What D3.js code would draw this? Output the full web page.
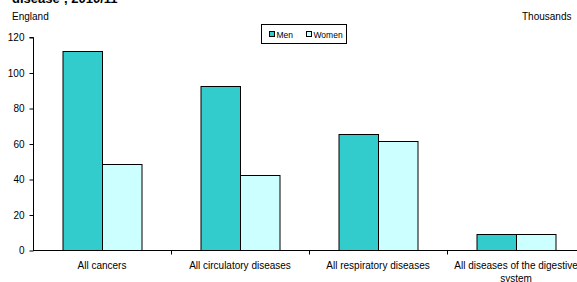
<!DOCTYPE html>
<html>
<head>
<meta charset="utf-8">
<script src="https://cdn.jsdelivr.net/npm/d3@7"></script>
<style>
body { margin: 0; background: #fff; overflow: hidden; }
svg { font-family: "Liberation Sans", Arial, sans-serif; }
</style>
</head>
<body>
<script>
var width = 577;
var height = 282;

// data
var categories = ["All cancers", "All circulatory diseases", "All respiratory diseases", "All diseases of the digestive system"];
var series = ["Men", "Women"];
var men = [112, 92.5, 65.3, 9];
var women = [48.5, 42.3, 61.4, 9];
var yTicks = [0, 20, 40, 60, 80, 100, 120];
var colors = ["#33cccc", "#ccffff"];

var svg = d3.select("body")
            .append("svg")
            .attr("width", width)
            .attr("height", height);

var plotLeft = 33, plotTop = 37, plotBottom = 250;
var chart_width = 552;

var x = d3.scaleBand().domain(categories).range([plotLeft, plotLeft + chart_width]).paddingInner(0).paddingOuter(0);
var x1 = d3.scaleBand().domain(series).range([0, 79]);
var y = d3.scaleLinear().domain([0, 120]).range([plotBottom, plotTop]);

// title (cut off at top)
svg.append("text")
   .attr("x", 12).attr("y", 3)
   .style("font-size", "13px").style("font-weight", "bold")
   .text("disease\u00b9, 2010/11");

svg.append("text").attr("x", 12).attr("y", 20).style("font-size", "10px").text("England");
svg.append("text").attr("x", 522).attr("y", 20).style("font-size", "10px").text("Thousands");

// bars
var rows = categories.map(function (c, i) { return { cat: c, vals: [men[i], women[i]] }; });
var groups = svg.selectAll(".grp")
    .data(rows)
    .enter()
    .append("g")
    .attr("transform", function (d) { return "translate(" + (x(d.cat) + (x.bandwidth() - 79) / 2) + ",0)"; });

groups.selectAll("rect")
    .data(function (d) { return d.vals.map(function (v, j) { return { s: series[j], v: v, j: j }; }); })
    .enter()
    .append("rect")
    .attr("x", function (d) { return x1(d.s) + 0.5; })
    .attr("y", function (d) { return Math.round(y(d.v)) + 0.5; })
    .attr("width", x1.bandwidth())
    .attr("height", function (d) { return plotBottom - Math.round(y(d.v)); })
    .attr("fill", function (d) { return colors[d.j]; })
    .attr("stroke", "#000")
    .attr("stroke-width", 1);

// y axis
var yAxis = d3.axisLeft(y).tickValues(yTicks).tickSize(4).tickPadding(5);
var gy = svg.append("g").attr("transform", "translate(" + (plotLeft + 0.5) + ",0.5)").call(yAxis);
gy.select(".domain").attr("d", "M-4," + plotTop + "H0V" + plotBottom);
gy.selectAll("text").style("font-size", "10px").style("font-family", "Liberation Sans, Arial, sans-serif");

// x axis
var gx = svg.append("g").attr("transform", "translate(0," + (plotBottom + 0.5) + ")");
gx.append("line").attr("x1", plotLeft).attr("x2", width).attr("stroke", "#000");
gx.selectAll(".tk")
  .data(categories.slice(1))
  .enter()
  .append("line")
  .attr("x1", function (d) { return x(d) + 0.5; })
  .attr("x2", function (d) { return x(d) + 0.5; })
  .attr("y1", 0).attr("y2", 4)
  .attr("stroke", "#000");

var labels = gx.selectAll(".lab")
  .data(categories)
  .enter()
  .append("text")
  .attr("x", function (d) { return x(d) + x.bandwidth() / 2; })
  .attr("y", 18.5)
  .attr("text-anchor", "middle")
  .style("font-size", "10px");
labels.each(function (d, i) {
    var t = d3.select(this);
    if (i === 3) {
        t.append("tspan").attr("x", x(d) + x.bandwidth() / 2).text("All diseases of the digestive");
        t.append("tspan").attr("x", x(d) + x.bandwidth() / 2).attr("dy", 13).text("system");
    } else {
        t.text(d);
    }
});

// legend
var lg = svg.append("g").attr("transform", "translate(261.5,24.5)");
lg.append("rect").attr("width", 85).attr("height", 19).attr("fill", "#fff").attr("stroke", "#000");
var items = [{ n: "Men", x: 8 }, { n: "Women", x: 45 }];
items.forEach(function (it, j) {
    lg.append("rect").attr("x", it.x).attr("y", 7).attr("width", 5).attr("height", 5)
      .attr("fill", colors[j]).attr("stroke", "#000");
    lg.append("text").attr("x", it.x + 7).attr("y", 13).style("font-size", "8.5px").text(it.n);
});
</script>
</body>
</html>
